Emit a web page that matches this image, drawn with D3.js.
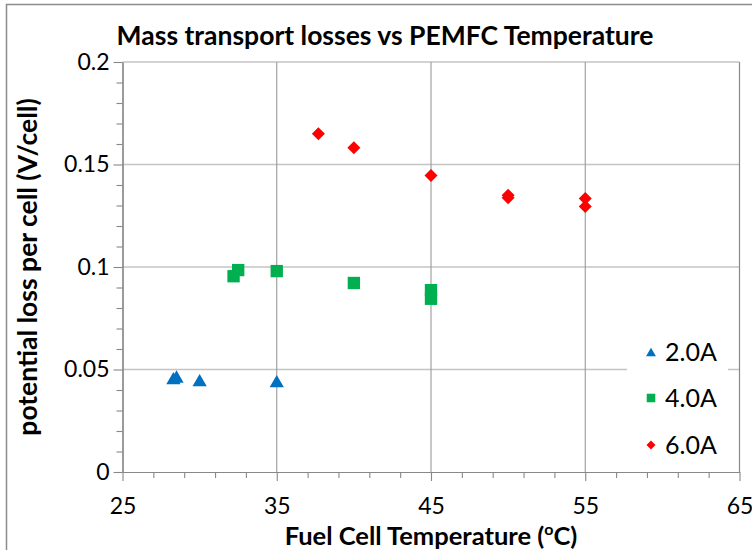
<!DOCTYPE html>
<html>
<head>
<meta charset="utf-8">
<script src="https://cdn.jsdelivr.net/npm/d3@7"></script>
<style>
  html, body { margin: 0; padding: 0; background: #fff; }
  svg { display: block; font-family: Lato, "Open Sans", sans-serif; }
</style>
</head>
<body>
<svg id="chart" width="752" height="550"></svg>
<script>
// ---- data ----
const seriesNames = ["2.0A", "4.0A", "6.0A"];
const temp2 = [28.3, 28.5, 30.0, 35.0];
const loss2 = [0.0458, 0.0466, 0.0448, 0.0443];
const temp4 = [32.2, 32.5, 35.0, 40.0, 45.0, 45.0];
const loss4 = [0.0955, 0.0985, 0.0980, 0.0922, 0.0887, 0.0845];
const temp6 = [37.7, 40.0, 45.0, 50.0, 50.0, 55.0, 55.0];
const loss6 = [0.1650, 0.1582, 0.1446, 0.1350, 0.1338, 0.1334, 0.1295];
const xTicks = [25, 35, 45, 55, 65];
const yTicks = [0, 0.05, 0.1, 0.15, 0.2];
const titleText = "Mass transport losses vs PEMFC Temperature";
const xTitle = "Fuel Cell Temperature  (";
const yTitle = "potential loss per cell (V/cell)";

const colors = ["#0070C0", "#00B050", "#FF0000"];
const shapes = ["triangle", "square", "diamond"];

const svg = d3.select("#chart");
const m = { left: 122.5, right: 739.5, top: 62, bottom: 472 };

// outer frame
svg.append("rect").attr("x", 6.5).attr("y", 4.5).attr("width", 760).attr("height", 560)
  .attr("fill", "#fff").attr("stroke", "#8c8c8c").attr("stroke-width", 1.5);

const x = d3.scaleLinear().domain([25, 65]).range([m.left, m.right]);
const y = d3.scaleLinear().domain([0, 0.2]).range([m.bottom, m.top]);

// horizontal gridlines
svg.append("g").selectAll("line").data(yTicks.filter(d => d > 0)).join("line")
  .attr("x1", m.left).attr("x2", m.right)
  .attr("y1", d => y(d)).attr("y2", d => y(d))
  .attr("stroke", "#c4c4c4").attr("stroke-width", 1.6);
// vertical gridlines
svg.append("g").selectAll("line").data(xTicks.filter(d => d > 25 && d < 65)).join("line")
  .attr("y1", m.top).attr("y2", m.bottom)
  .attr("x1", d => x(d)).attr("x2", d => x(d))
  .attr("stroke", "#999").attr("stroke-width", 1.1);
// right border of plot
svg.append("line").attr("x1", m.right).attr("x2", m.right).attr("y1", m.top).attr("y2", m.bottom)
  .attr("stroke", "#888").attr("stroke-width", 1.2);

// x axis
const xAxis = d3.axisBottom(x).tickValues(xTicks).tickSize(9).tickFormat(d3.format("d")).tickSizeOuter(0);
const gx = svg.append("g").attr("transform", `translate(0,${m.bottom})`).call(xAxis);
const xMinor = d3.axisBottom(x).tickValues(d3.range(25, 65.01, 2).filter(v => (v - 25) % 10 !== 0)).tickSize(6).tickFormat("").tickSizeOuter(0);
const gxm = svg.append("g").attr("transform", `translate(0,${m.bottom})`).call(xMinor);
// y axis
const yAxis = d3.axisLeft(y).tickValues(yTicks).tickSize(9).tickFormat(d => d === 0 ? "0" : String(+d.toFixed(2))).tickSizeOuter(0);
const gy = svg.append("g").attr("transform", `translate(${m.left},0)`).call(yAxis);
const yMinor = d3.axisLeft(y).tickValues(d3.range(0, 0.2001, 0.01).filter((v, i) => i % 5 !== 0)).tickSize(6).tickFormat("").tickSizeOuter(0);
const gym = svg.append("g").attr("transform", `translate(${m.left},0)`).call(yMinor);

[gx, gxm, gy, gym].forEach(g => {
  g.select(".domain").attr("stroke", "#888").attr("stroke-width", 1.2);
  g.selectAll(".tick line").attr("stroke", "#888").attr("stroke-width", 1.1);
});
gx.selectAll(".tick text").attr("font-family", "Lato").attr("font-size", 23).attr("fill", "#000").attr("y", 42).attr("dy", 0);
gy.selectAll(".tick text").attr("font-family", "Lato").attr("font-size", 23).attr("fill", "#000").attr("x", -13);

// markers
function shapePath(type, cx, cy, s) {
  if (type === "triangle") {
    const w = s * 1.1, h = s * 0.95;
    return `M${cx},${cy - h / 2}L${cx + w / 2},${cy + h / 2}L${cx - w / 2},${cy + h / 2}Z`;
  }
  if (type === "square") {
    const a = s * 0.95;
    return `M${cx - a / 2},${cy - a / 2}h${a}v${a}h${-a}Z`;
  }
  const r = s / 2;
  return `M${cx},${cy - r}L${cx + r},${cy}L${cx},${cy + r}L${cx - r},${cy}Z`;
}

const series = [
  { t: temp2, v: loss2 },
  { t: temp4, v: loss4 },
  { t: temp6, v: loss6 }
];
const markSize = [13, 13, 13];
series.forEach((s, i) => {
  svg.append("g").selectAll("path").data(s.t.map((t, j) => [t, s.v[j]])).join("path")
    .attr("d", d => shapePath(shapes[i], x(d[0]), y(d[1]), markSize[i]))
    .attr("fill", colors[i]);
});

// legend
svg.append("rect").attr("x", 627).attr("y", 330).attr("width", 101).attr("height", 135).attr("fill", "#fff");
const legY = [352, 398, 445];
seriesNames.forEach((n, i) => {
  svg.append("path").attr("d", shapePath(shapes[i], 651, legY[i], 9)).attr("fill", colors[i]);
  svg.append("text").attr("x", 665).attr("y", legY[i]).attr("dy", "0.36em")
    .attr("font-size", 25).attr("fill", "#000").text(n);
});

// title
svg.append("text").attr("x", 385).attr("y", 45).attr("text-anchor", "middle")
  .attr("font-weight", "bold").attr("font-size", 26.5).attr("fill", "#000").text(titleText);

// x title
const xt = svg.append("text").attr("x", 431).attr("y", 545).attr("text-anchor", "middle")
  .attr("font-weight", "bold").attr("font-size", 25.5).attr("fill", "#000");
xt.append("tspan").text(xTitle);
xt.append("tspan").attr("font-size", 16).attr("dy", -10).text("o");
xt.append("tspan").attr("dy", 10).text("C)");

// y title
svg.append("text").attr("transform", `translate(37,267) rotate(-90)`).attr("text-anchor", "middle")
  .attr("font-weight", "bold").attr("font-size", 26.5).attr("fill", "#000").text(yTitle);
</script>
</body>
</html>
